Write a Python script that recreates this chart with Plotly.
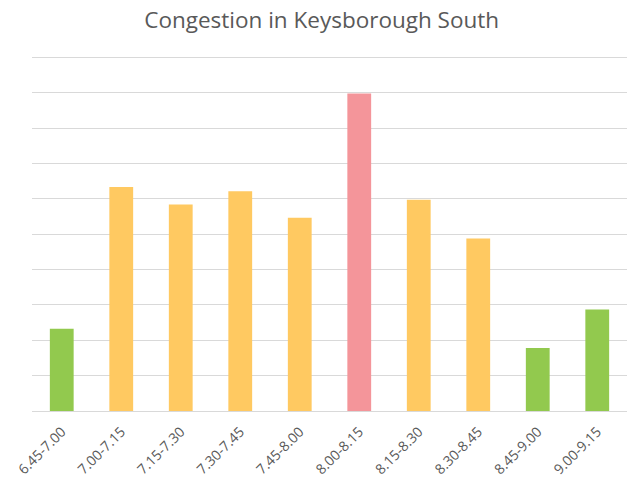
import plotly.graph_objects as go

categories = ["6.45-7.00", "7.00-7.15", "7.15-7.30", "7.30-7.45", "7.45-8.00",
              "8.00-8.15", "8.15-8.30", "8.30-8.45", "8.45-9.00", "9.00-9.15"]
congestion = [2.33, 6.34, 5.84, 6.22, 5.47, 8.98, 5.98, 4.88, 1.78, 2.87]
level = ["low", "medium", "medium", "medium", "medium",
         "high", "medium", "medium", "low", "low"]

level_colors = {"low": "#92C94E", "medium": "#FFC961", "high": "#F4959A"}

fig = go.Figure(go.Bar(
    x=categories,
    y=congestion,
    marker=dict(color=[level_colors[l] for l in level], line=dict(width=0)),
    hoverinfo="x+y",
))

fig.update_layout(
    width=627, height=484,
    margin=dict(l=32, r=0, t=54, b=73, autoexpand=False),
    paper_bgcolor="white", plot_bgcolor="white",
    bargap=0.6,
    showlegend=False,
    title=dict(text="Congestion in Keysborough South", x=0.513, xanchor="center",
               y=0.958, yanchor="middle",
               font=dict(family="Open Sans", size=22.5, color="#595959")),
    font=dict(family="Open Sans", color="#595959"),
)
fig.update_xaxes(
    tickangle=-45, tickfont=dict(size=14, color="#595959"),
    showgrid=False, showline=False, ticks="", automargin=False,
    ticklabelstandoff=9,
)
fig.update_yaxes(
    range=[0, 10.1], dtick=1, showticklabels=False, automargin=False,
    showgrid=True, gridcolor="#D9D9D9", gridwidth=1,
    zeroline=True, zerolinecolor="#D9D9D9", zerolinewidth=1,
)

fig.write_html("out.html",
               config={"displayModeBar": False},
               post_script="document.body.style.margin='0';document.body.style.overflow='hidden';")
